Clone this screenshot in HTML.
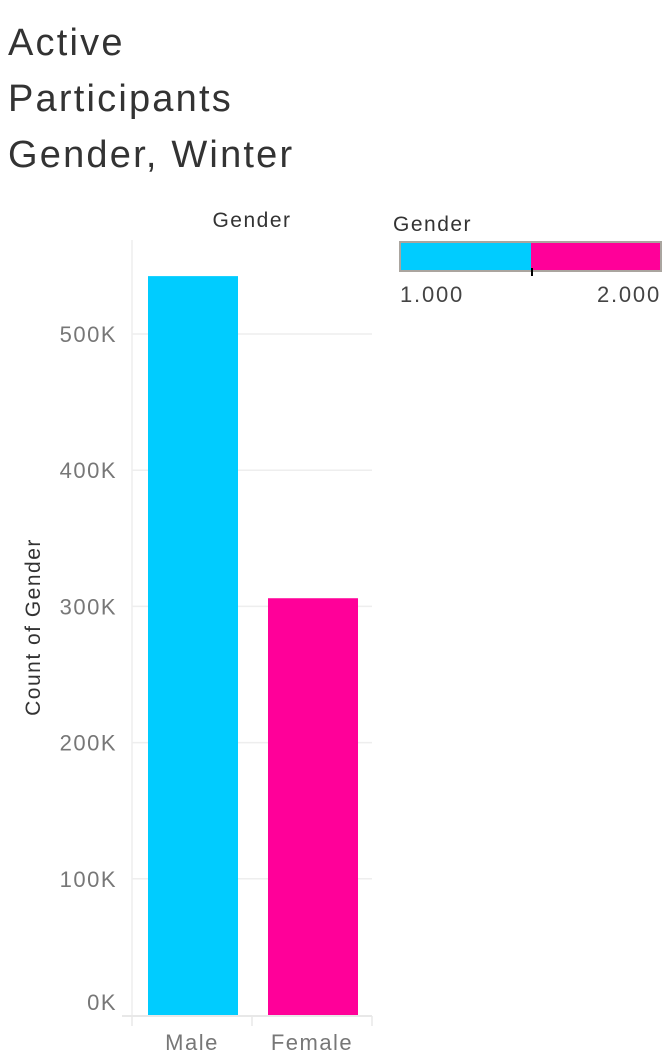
<!DOCTYPE html>
<html><head><meta charset="utf-8"><style>
body{margin:0;background:#fff;width:672px;height:1056px;overflow:hidden;font-family:"Liberation Sans",sans-serif}
</style></head><body>
<svg width="672" height="1056" xmlns="http://www.w3.org/2000/svg">
<g font-size="38" fill="#333" letter-spacing="2.2">
<text x="8" y="55">Active</text>
<text x="8" y="111">Participants</text>
<text x="8" y="167">Gender, Winter</text>
</g>
<text x="252" y="227" font-size="21" fill="#333" text-anchor="middle" letter-spacing="1.5">Gender</text>
<text transform="translate(40,627) rotate(-90)" font-size="21" fill="#333" text-anchor="middle" letter-spacing="1.5">Count of Gender</text>
<g id="grid"></g><g id="yt"></g><g id="bars"></g><g id="xt"></g>
<line x1="132" y1="240" x2="132" y2="1016" stroke="#eee" stroke-width="1.5"/>
<line x1="122" y1="1016" x2="372" y2="1016" stroke="#e8e8e8" stroke-width="2"/>
<g>
<text x="393" y="231" font-size="21" fill="#333" letter-spacing="1.5">Gender</text>
<rect x="400" y="242" width="131" height="29" fill="#00CCFF"/>
<rect x="531" y="242" width="130" height="29" fill="#FF0099"/>
<rect x="400" y="242" width="261" height="29" fill="none" stroke="#aaa59f" stroke-width="2"/>
<line x1="532" y1="268" x2="532" y2="276" stroke="#000" stroke-width="2"/>
<text x="400" y="302" font-size="22" fill="#444" letter-spacing="1.8">1.000</text>
<text x="661" y="302" font-size="22" fill="#444" text-anchor="end" letter-spacing="1.8">2.000</text>
</g>
</svg>
<script>
const categories=["Male","Female"];
const values=[542500,306000];
const colors=["#00CCFF","#FF0099"];
const ticks=[0,100000,200000,300000,400000,500000];
const tickLabels=["0K","100K","200K","300K","400K","500K"];
const NS="http://www.w3.org/2000/svg";
const y=v=>1015-v*(136.2/100000);
const x=i=>132+i*120;
function mk(t,a,p){const e=document.createElementNS(NS,t);for(const k in a)e.setAttribute(k,a[k]);document.getElementById(p).appendChild(e);return e;}
ticks.forEach((t,i)=>{
 if(t>0){const g=mk("line",{x1:132,x2:372,y1:y(t),y2:y(t),stroke:"#eee","stroke-width":1.5},"grid");
 
 }
 const l=mk("text",{x:117,y:y(t)+(t==0?-5:8),"font-size":22,fill:"#777","text-anchor":"end","letter-spacing":1.5},"yt");
 l.textContent=tickLabels[i];
 
 
});
categories.forEach((c,i)=>{
 const b=mk("rect",{x:x(i)+16,y:y(values[i]),width:90,height:1015-y(values[i]),fill:colors[i]},"bars");
 
 
 const tk=mk("line",{x1:x(i),x2:x(i),y1:1016,y2:1026,stroke:"#e8e8e8","stroke-width":1.5},"xt");
 
 
 const t=mk("text",{x:x(i)+60,y:1050,"font-size":22,fill:"#777","text-anchor":"middle","letter-spacing":1.5},"xt");
 t.textContent=c;
 
 
});
const te=mk("line",{x1:372,x2:372,y1:1016,y2:1026,stroke:"#e8e8e8","stroke-width":1.5},"xt");


</script>
</body></html>
